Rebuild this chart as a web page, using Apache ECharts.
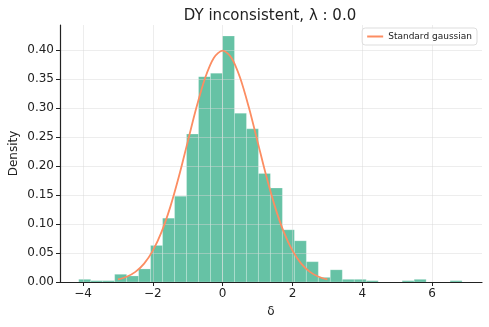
<!DOCTYPE html>
<html>
<head>
<meta charset="utf-8">
<script src="https://cdn.jsdelivr.net/npm/echarts@6/dist/echarts.min.js"></script>
<style>
    html, body { margin: 0; padding: 0; background: #fff; }
    #hist { width: 489px; height: 327px; }
</style>
</head>
<body>
<div id="hist"></div>
<script>
// histogram bins (32 equal bins)
const binStart = -4.123;
const binWidth = 0.3432;
const densities = [
    0.0046, 0.0023, 0.0023, 0.0133, 0.0104, 0.0225, 0.063, 0.110,
    0.148, 0.255, 0.354, 0.360, 0.424, 0.291, 0.264, 0.187,
    0.162, 0.090, 0.071, 0.035, 0.008, 0.021, 0.0046, 0.0046,
    0.0023, 0, 0, 0.0023, 0.0046, 0, 0, 0.0023
];

// standard gaussian, sampled
const gaussX = [-3, -2.75, -2.5, -2.25, -2, -1.75, -1.5, -1.25, -1, -0.75, -0.5, -0.25, 0,
    0.25, 0.5, 0.75, 1, 1.25, 1.5, 1.75, 2, 2.25, 2.5, 2.75, 3];
const gaussY = [0.0044, 0.0091, 0.0175, 0.0317, 0.0540, 0.0863, 0.1295, 0.1826, 0.2420, 0.3011, 0.3521, 0.3867, 0.3989,
    0.3867, 0.3521, 0.3011, 0.2420, 0.1826, 0.1295, 0.0863, 0.0540, 0.0317, 0.0175, 0.0091, 0.0044];

const xTicks = [-4, -2, 0, 2, 4, 6];
const yTicks = [0, 0.05, 0.10, 0.15, 0.20, 0.25, 0.30, 0.35, 0.40];

const font = 'DejaVu Sans';

let histElem = document.getElementById('hist');
let hist = echarts.init(histElem);

let barData = densities.map((d, i) => [binStart + i * binWidth, binStart + (i + 1) * binWidth, d]);
let lineData = gaussX.map((x, i) => [x, gaussY[i]]);

hist.setOption({
    animation: false,
    title: {
        text: 'DY inconsistent, λ : 0.0',
        left: 265,
        textAlign: 'center',
        top: 4,
        textStyle: { fontFamily: font, fontSize: 15, fontWeight: 'normal', color: '#222' }
    },
    legend: {
        right: 12,
        top: 28,
        data: ['Standard gaussian'],
        itemWidth: 16,
        itemHeight: 2,
        itemGap: 4,
        padding: [4, 5, 4, 5],
        borderColor: '#ddd',
        borderWidth: 1,
        borderRadius: 3,
        backgroundColor: 'rgba(255,255,255,0.8)',
        textStyle: { fontFamily: font, fontSize: 9, color: '#222' },
        icon: 'rect'
    },
    grid: { left: 60, right: 7, top: 25, bottom: 45, outerBoundsMode: 'none' },
    xAxis: {
        type: 'value',
        min: -4.66,
        max: 7.43,
        z: 3,
        name: 'δ',
        nameLocation: 'middle',
        nameGap: 24,
        nameMoveOverlap: false,
        nameTextStyle: { fontFamily: font, fontSize: 12, color: '#222' },
        axisLine: { onZero: false, lineStyle: { color: '#222', width: 1.2 } },
        axisTick: { customValues: xTicks, length: 4, lineStyle: { color: '#222' } },
        axisLabel: {
            customValues: xTicks,
            fontFamily: font, fontSize: 12, color: '#222', margin: 6,
            formatter: v => String(v).replace('-', '\u2212')
        },
        splitLine: { show: true, lineStyle: { color: 'rgba(215,215,215,0.45)', width: 1 } }
    },
    yAxis: {
        type: 'value',
        min: 0,
        max: 0.443,
        z: 3,
        name: 'Density',
        nameLocation: 'middle',
        nameGap: 40,
        nameMoveOverlap: false,
        nameTextStyle: { fontFamily: font, fontSize: 12, color: '#222' },
        axisLine: { show: true, onZero: false, lineStyle: { color: '#222', width: 1.2 } },
        axisTick: { show: true, customValues: yTicks, length: 4, lineStyle: { color: '#222' } },
        axisLabel: {
            customValues: yTicks,
            fontFamily: font, fontSize: 12, color: '#222', margin: 6,
            formatter: v => v.toFixed(2)
        },
        splitLine: { show: true, lineStyle: { color: 'rgba(215,215,215,0.45)', width: 1 } }
    },
    series: [{
        name: 'hist',
        type: 'custom',
        renderItem: function(params, api) {
            let p0 = api.coord([api.value(0), api.value(2)]);
            let p1 = api.coord([api.value(1), 0]);
            return {
                type: 'rect',
                shape: { x: p0[0], y: p0[1], width: p1[0] - p0[0], height: p1[1] - p0[1] },
                style: { fill: '#66c2a5', stroke: 'rgba(255,255,255,0.35)', lineWidth: 0.6 }
            };
        },
        encode: { x: [0, 1], y: 2 },
        data: barData
    }, {
        name: 'Standard gaussian',
        type: 'line',
        data: lineData,
        smooth: 0.3,
        showSymbol: false,
        z: 5,
        lineStyle: { color: '#fc8d62', width: 1.8 },
        itemStyle: { color: '#fc8d62' }
    }]
});
</script>
</body>
</html>
